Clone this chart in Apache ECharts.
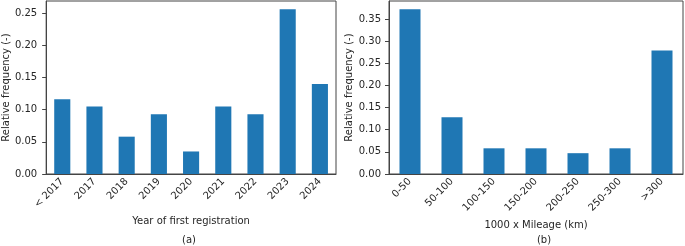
<!DOCTYPE html>
<html>
<head>
<meta charset="utf-8">
<script src="https://cdn.jsdelivr.net/npm/echarts@6/dist/echarts.min.js"></script>
<style>html,body{margin:0;padding:0;background:#fff}#c{width:685px;height:246px}</style>
</head>
<body>
<div id="c"></div>
<script>
const yearCategories = ['< 2017','2017','2018','2019','2020','2021','2022','2023','2024'];
const yearValues = [0.116, 0.105, 0.058, 0.093, 0.035, 0.105, 0.093, 0.256, 0.140];
const mileageCategories = ['0-50','50-100','100-150','150-200','200-250','250-300','>300'];
const mileageValues = [0.372, 0.128, 0.058, 0.058, 0.047, 0.058, 0.279];
const yearTicks = [0, 0.05, 0.10, 0.15, 0.20, 0.25];
const mileageTicks = [0, 0.05, 0.10, 0.15, 0.20, 0.25, 0.30, 0.35];

const FONT = 'DejaVu Sans';
const TXT = '#262626';
const AX = '#444';
const FS = 10;

function xAxisCfg(idx, cats, name, gap) {
  return {
    type: 'category', gridIndex: idx, data: cats,
    name: name, nameLocation: 'middle', nameGap: gap,
    nameTextStyle: {fontFamily: FONT, fontSize: FS, color: TXT},
    axisLine: {lineStyle: {color: AX, width: 1}},
    axisTick: {alignWithLabel: true, length: 4, lineStyle: {color: AX}},
    axisLabel: {rotate: 45, fontFamily: FONT, fontSize: FS, color: TXT, margin: 6, interval: 0}
  };
}
function yAxisCfg(idx, max, ticks, gap, margin) {
  return {
    type: 'value', gridIndex: idx, min: 0, max: max,
    name: 'Relative frequency (-)', nameLocation: 'middle', nameGap: gap,
    nameTextStyle: {fontFamily: FONT, fontSize: FS, color: TXT},
    splitLine: {show: false},
    axisLine: {show: true, lineStyle: {color: AX, width: 1}},
    axisTick: {show: true, length: 4, lineStyle: {color: AX}, customValues: ticks},
    axisLabel: {fontFamily: FONT, fontSize: FS, color: TXT, margin: margin, customValues: ticks,
      formatter: v => v.toFixed(2)}
  };
}

const chart = echarts.init(document.getElementById('c'), null, {renderer: 'canvas'});
chart.setOption({
  animation: false,
  grid: [
    {left: 43, right: 349, top: 1, bottom: 72, show: true, borderColor: AX, borderWidth: 1, containLabel: false},
    {left: 389, right: 2, top: 1, bottom: 72, show: true, borderColor: AX, borderWidth: 1, containLabel: false}
  ],
  title: [
    {text: '(a)', left: 189, top: 235, textAlign: 'center', textStyle: {fontFamily: FONT, fontSize: FS, color: TXT, fontWeight: 'normal'}, padding: 0},
    {text: '(b)', left: 544, top: 235, textAlign: 'center', textStyle: {fontFamily: FONT, fontSize: FS, color: TXT, fontWeight: 'normal'}, padding: 0}
  ],
  xAxis: [
    xAxisCfg(0, yearCategories, 'Year of first registration', 42),
    xAxisCfg(1, mileageCategories, '1000 x Mileage (km)', 46)
  ],
  yAxis: [
    yAxisCfg(0, 0.2688, yearTicks, 33, 9),
    yAxisCfg(1, 0.3906, mileageTicks, 31, 8)
  ],
  series: [
    {type: 'bar', xAxisIndex: 0, yAxisIndex: 0, data: yearValues, barWidth: '50%', itemStyle: {color: '#1f77b4'}},
    {type: 'bar', xAxisIndex: 1, yAxisIndex: 1, data: mileageValues, barWidth: '50%', itemStyle: {color: '#1f77b4'}}
  ]
});
</script>
</body>
</html>
